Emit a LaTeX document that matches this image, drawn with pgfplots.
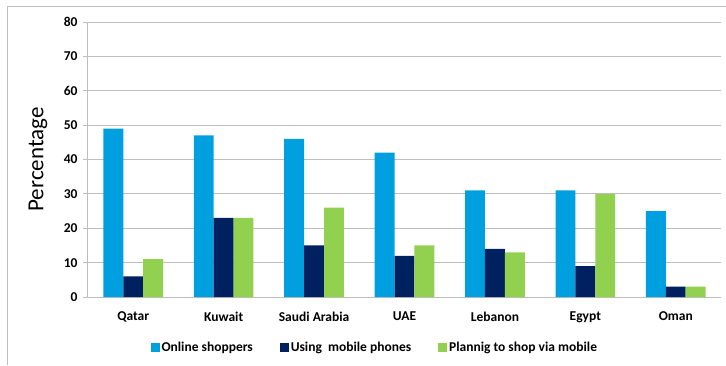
\documentclass[border=0pt]{standalone}
\usepackage{pgfplots}
\pgfplotsset{compat=1.18}
\usepackage{fontspec}
\setmainfont{Carlito}
\definecolor{cblue}{HTML}{009FDF}
\definecolor{cnavy}{HTML}{002060}
\definecolor{cgreen}{HTML}{92D050}
\definecolor{cgrid}{HTML}{BEBEBE}
\begin{document}
\begin{tikzpicture}
\path[use as bounding box] (-88pt,-68pt) rectangle (638pt,297pt);
\draw[cgrid,line width=1pt] (-80pt,-68pt) -- (-80pt,290pt) -- (638pt,290pt);
\begin{axis}[
  at={(0pt,0pt)}, anchor=south west,
  scale only axis, width=633pt, height=275pt,
  ybar, bar width=0.22, 
  xmin=-0.5, xmax=6.5, ymin=0, ymax=80,
  ytick={0,10,...,80},
  xtick={0,...,6},
  xticklabels={Qatar,Kuwait,Saudi Arabia,UAE,Lebanon,Egypt,Oman},
  extra x ticks={-0.5,0.5,...,6.5},
  extra x tick labels={},
  extra x tick style={major tick length=5pt, tick style={cgrid}, grid=none},
  x tick style={draw=none},
  major tick length=5pt,
  y tick style={cgrid, line width=0.8pt},
  tick align=outside,
  ymajorgrids, grid style={cgrid, line width=1pt},
  axis x line*=bottom, axis y line*=left,
  axis line style={cgrid, line width=1pt, -},
  tick label style={font=\bfseries\fontsize{13.5}{15}\selectfont},
  /pgf/number format/assume math mode=true,
  yticklabel style={xshift=-2pt},
  xticklabel style={yshift=-6pt},
  ylabel={Percentage},
  ylabel style={font=\fontsize{23}{26}\selectfont, at={(axis description cs:0,0.5)}, anchor=center, yshift=50pt},
  legend style={at={(0.453,-0.185)}, anchor=center, draw=none, legend columns=3,
    font=\bfseries\fontsize{13.5}{15}\selectfont,
    /tikz/every even column/.append style={column sep=25pt}},
  legend image code/.code={\fill[#1] (0pt,-4.5pt) rectangle (9pt,4.5pt);},
]
\addplot[fill=cblue, draw=none, bar shift=-0.22] coordinates {(0,49) (1,47) (2,46) (3,42) (4,31) (5,31) (6,25)};
\addplot[fill=cnavy, draw=none, bar shift=0] coordinates {(0,6) (1,23) (2,15) (3,12) (4,14) (5,9) (6,3)};
\addplot[fill=cgreen, draw=none, bar shift=0.22] coordinates {(0,11) (1,23) (2,26) (3,15) (4,13) (5,30) (6,3)};
\legend{Online shoppers, Using\ \ mobile phones, Plannig to shop via mobile}
\end{axis}
\end{tikzpicture}
\end{document}
